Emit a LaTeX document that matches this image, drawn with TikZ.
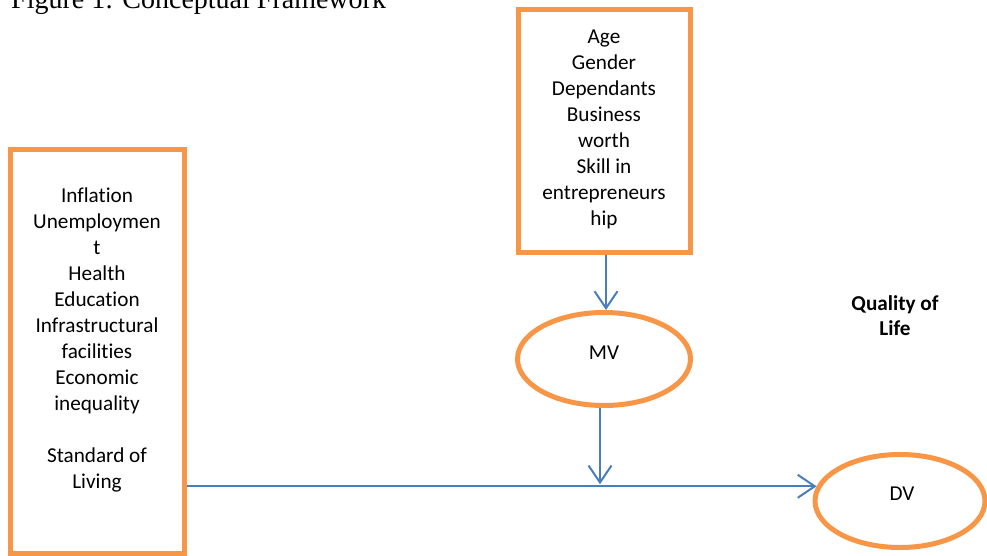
\documentclass[tikz,border=0pt]{standalone}
\usepackage{fontspec}
\setmainfont{Carlito}[Ligatures=NoCommon]
\newfontfamily\titlefont{Liberation Serif}
\usetikzlibrary{shapes.geometric,arrows.meta}
\definecolor{boxorange}{RGB}{247,150,70}
\definecolor{lineblue}{RGB}{74,126,187}
\begin{document}
\begin{tikzpicture}[x=1pt,y=-1pt,
  frame/.style={draw=boxorange,line width=5pt,rectangle,fill=white,inner sep=0pt},
  oval/.style={draw=boxorange,line width=5pt,ellipse,fill=white,inner sep=0pt},
  txt/.style={font=\fontsize{21.2}{26}\selectfont,align=center,inner sep=0pt},
  conn/.style={draw=lineblue,line width=2pt,-{Straight Barb[length=17pt,width=23pt]}}]
\useasboundingbox (0,0) rectangle (987,556);
% title (cut at top)
\node[anchor=base west,inner sep=0pt,font=\titlefont\fontsize{28}{33}\selectfont] (title) at (11,9) {Figure 1: Conceptual Framework};
% boxes
\node[frame,minimum width=172pt,minimum height=242pt] (tbox) at (604,131) {};
\node[txt,anchor=north] (ttext) at (604,29.6) {Age\\Gender\\Dependants\\Business\\worth\\Skill in\\entrepreneurs\\hip};
\node[frame,minimum width=174pt,minimum height=403.5pt] (lbox) at (97.5,351.25) {};
\node[txt,anchor=north] (ltext) at (97,188) {Inflation\\Unemploymen\\t\\Health\\Education\\Infrastructural\\facilities\\Economic\\inequality\\\mbox{}\\Standard of\\Living};
% ellipses
\node[oval,minimum width=173pt,minimum height=93pt] (mv) at (604,359) {};
\node[txt,anchor=base] (mvt) at (604,359) {MV};
\node[oval,minimum width=170pt,minimum height=93pt] (dv) at (900,501) {};
\node[txt,anchor=base] (dvt) at (902,500) {DV};
\node[txt,font=\fontsize{21.2}{25}\selectfont\bfseries,anchor=north] (ql) at (895,295) {Quality of\\Life};
% connectors
\coordinate (a1) at ([xshift=2pt]tbox.south);
\draw[conn] (a1) -- (a1 |- mv.north);
\coordinate (b1) at ([xshift=-4pt]mv.south);
\coordinate (j) at (b1 |- dv.170);
\draw[conn] (b1) -- ([yshift=2pt]j);
\draw[conn] (lbox.east |- dv.170) -- (dv.170);
\end{tikzpicture}
\end{document}
